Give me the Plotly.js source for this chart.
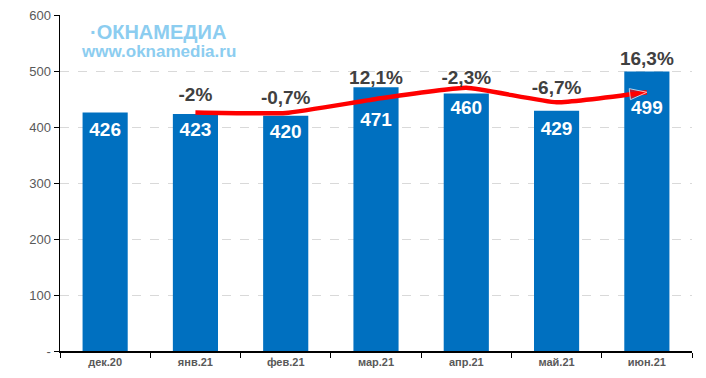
<!DOCTYPE html>
<html><head><meta charset="utf-8">
<script src="https://cdn.plot.ly/plotly-3.0.1.min.js"></script>
<style>html,body{margin:0;padding:0;background:#fff}#c{width:706px;height:378px}</style>
</head><body><div id="c"></div>
<script>
const categories = ["дек.20","янв.21","фев.21","мар.21","апр.21","май.21","июн.21"];
const values = [426, 423, 420, 471, 460, 429, 499];
const valueLabelY = [392, 392, 389, 410, 431, 394, 432];
const trendX = ["янв.21","фев.21","мар.21","апр.21","май.21","июн.21"];
const trendY = [426, 425, 450, 470, 444, 462];
const pctLabels = ["-2%","-0,7%","12,1%","-2,3%","-6,7%","16,3%"];
const pctLabelY = [455, 450, 486, 486, 468, 520];
const yTicks = [0,100,200,300,400,500,600];
const yTickText = ["-","100","200","300","400","500","600"];

const traces = [
  {type:"bar", x:categories, y:values, width:0.5, marker:{color:"#0070c0"}, hoverinfo:"none"},
  {type:"scatter", mode:"text", x:categories, y:valueLabelY, text:values.map(String),
   textfont:{family:"Arial, Liberation Sans, sans-serif", size:19, color:"#ffffff", weight:"bold"}, hoverinfo:"none"},
  {type:"scatter", mode:"lines+markers", x:trendX, y:trendY,
   line:{color:"#ff0000", width:4.5, shape:"spline", smoothing:0.4},
   marker:{symbol:trendX.map((d,i)=> i===trendX.length-1 ? "arrow" : "circle"),
           size:trendX.map((d,i)=> i===trendX.length-1 ? 18 : 0),
           angleref:"previous", color:"#ff0000"}, hoverinfo:"none"},
  {type:"scatter", mode:"text", x:trendX, y:pctLabelY, text:pctLabels,
   textfont:{family:"Arial, Liberation Sans, sans-serif", size:19, color:"#404040", weight:"bold"}, hoverinfo:"none"}
];

const layout = {
  width:706, height:378, showlegend:false,
  margin:{l:60, r:14, t:15, b:27},
  paper_bgcolor:"#fff", plot_bgcolor:"#fff",
  font:{family:"Arial, Liberation Sans, sans-serif"},
  xaxis:{type:"category", showline:true, linecolor:"#000", linewidth:1.5, ticks:"outside",
         tickson:"boundaries", ticklen:5, tickcolor:"#000",
         tickfont:{size:11, color:"#595959", weight:"bold"}, showgrid:false, fixedrange:true},
  yaxis:{range:[0,600], tickvals:yTicks, ticktext:yTickText, showline:true, linecolor:"#000", linewidth:1.5,
         ticks:"outside", ticklen:5, tickcolor:"#000", gridcolor:"#d9d9d9", griddash:"dash",
         tickfont:{size:13, color:"#595959"}, zeroline:false, fixedrange:true},
  annotations:[
    {xref:"paper", yref:"paper", x:0.045, y:0.949, xanchor:"left", yanchor:"middle", showarrow:false,
     text:"<b>·ОКНАМЕДИА</b>", font:{size:20, color:"#8ccdf0", family:"Arial, Liberation Sans, sans-serif"}},
    {xref:"paper", yref:"paper", x:0.03, y:0.89, xanchor:"left", yanchor:"middle", showarrow:false,
     text:"<b>www.oknamedia.ru</b>", font:{size:17, color:"#8ccdf0", family:"Arial, Liberation Sans, sans-serif"}}
  ]
};
Plotly.newPlot("c", traces, layout, {staticPlot:true, displayModeBar:false});
</script></body></html>
